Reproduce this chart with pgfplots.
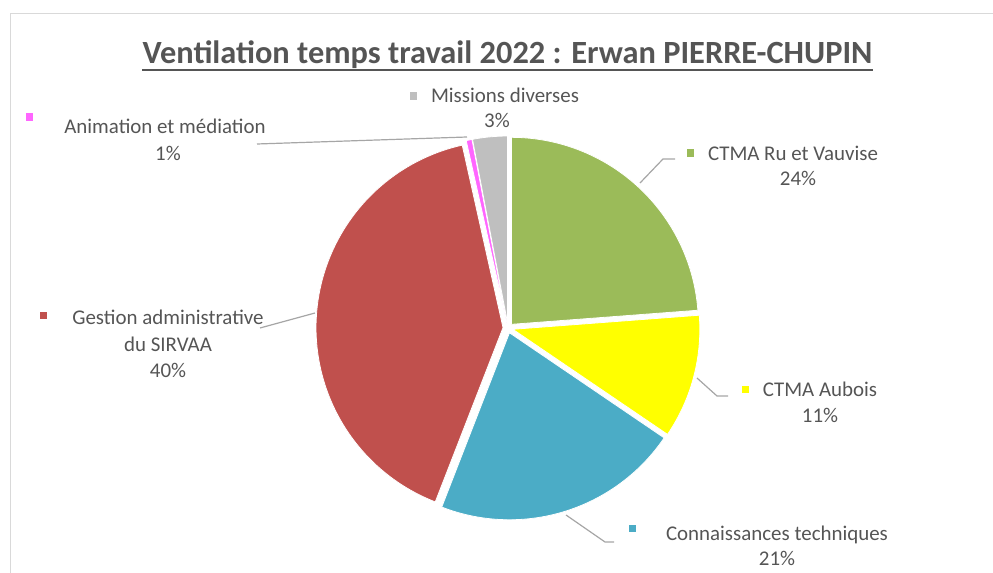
\documentclass[border=0pt]{standalone}
\usepackage{pgfplots}
\pgfplotsset{compat=1.18}
\usepackage{pgfplotstable}
\usepackage{fontspec}
\setmainfont{Carlito}
\definecolor{txt}{HTML}{555555}
\definecolor{lead}{HTML}{A6A6A6}
\definecolor{frame}{HTML}{D9D9D9}
\definecolor{cgreen}{HTML}{9BBB59}
\definecolor{cyellow}{HTML}{FFFF00}
\definecolor{cblue}{HTML}{4BACC6}
\definecolor{cred}{HTML}{C0504D}
\definecolor{cmag}{HTML}{FF66FF}
\definecolor{cgray}{HTML}{BFBFBF}
% shares (percent), clockwise from 12 o'clock
\pgfplotstableread{
name value
CTMA_Ru_et_Vauvise 23.8
CTMA_Aubois 10.7
Connaissances_techniques 21.4
Gestion_administrative 40.6
Animation_et_mediation 0.5
Missions_diverses 3.0
}\piedata
\def\cum{0}
\newcommand\slice[2]{%
  \pgfmathsetmacro\sa{90-3.6*\cum}%
  \pgfmathsetmacro\sb{90-3.6*(\cum+#1)}%
  \pgfmathsetmacro\sm{(\sa+\sb)/2}%
  \pgfmathsetmacro\scx{508+5*cos(\sm)}%
  \pgfmathsetmacro\scy{328-5*sin(\sm)}%
  \edef\tmp{\noexpand\addplot[fill=#2, draw=white, line width=0.8pt, mark=none, domain=\sb:\sa, samples=90, variable=\noexpand\t] ({\scx+187*cos(\noexpand\t)}, {\scy-187*sin(\noexpand\t)}) -- (axis cs:\scx,\scy) -- cycle;}%
  \tmp
  \pgfmathsetmacro\cum{\cum+#1}\xdef\cum{\cum}%
}
\tikzset{lab/.style={text=txt, inner sep=0pt, text height=0.64em, text depth=0pt, font=\fontsize{21}{24}\selectfont}}
\begin{document}
\begin{tikzpicture}
\begin{axis}[x=1bp, y=1bp, xmin=0, xmax=993, ymin=0, ymax=573, y dir=reverse, hide axis, clip=false]
% frame
\addplot[draw=frame, line width=1.5bp, mark=none] coordinates {(10.5,573) (10.5,13.5) (993,13.5)};
% slices
\pgfplotstablegetelem{0}{value}\of\piedata \slice{\pgfplotsretval}{cgreen}
\pgfplotstablegetelem{1}{value}\of\piedata \slice{\pgfplotsretval}{cyellow}
\pgfplotstablegetelem{2}{value}\of\piedata \slice{\pgfplotsretval}{cblue}
\pgfplotstablegetelem{3}{value}\of\piedata \slice{\pgfplotsretval}{cred}
\pgfplotstablegetelem{4}{value}\of\piedata \slice{\pgfplotsretval}{cmag}
\pgfplotstablegetelem{5}{value}\of\piedata \slice{\pgfplotsretval}{cgray}
% leader lines
\addplot[draw=lead, line width=1.2bp, mark=none] coordinates {(467,137) (257,144)};
\addplot[draw=lead, line width=1.2bp, mark=none] coordinates {(640,183) (663,159) (675,159)};
\addplot[draw=lead, line width=1.2bp, mark=none] coordinates {(697,378) (717,396) (728,396)};
\addplot[draw=lead, line width=1.2bp, mark=none] coordinates {(566,515) (605,542) (614,542)};
\addplot[draw=lead, line width=1.2bp, mark=none] coordinates {(315,313) (260,328)};
% legend keys
\addplot[only marks, mark=square*, mark size=3.3bp, color=cgray] coordinates {(413,96)};
\addplot[only marks, mark=square*, mark size=3.3bp, color=cmag] coordinates {(29,117)};
\addplot[only marks, mark=square*, mark size=3.3bp, color=cgreen] coordinates {(690,153)};
\addplot[only marks, mark=square*, mark size=3.3bp, color=cyellow] coordinates {(745,389)};
\addplot[only marks, mark=square*, mark size=3.3bp, color=cblue] coordinates {(632,528)};
\addplot[only marks, mark=square*, mark size=3.3bp, color=cred] coordinates {(43,315)};
% title
\node[text=txt, inner sep=0pt, anchor=base, font=\fontsize{32.5}{36}\bfseries\selectfont] (T) at (axis cs:507.5,64) {Ventilation temps travail 2022 : Erwan PIERRE-CHUPIN};
\draw[txt, line width=1.8bp] ([yshift=-6bp]T.base west) -- ([yshift=-6bp]T.base east);
% labels
\node[lab] at (axis cs:505,99) {Missions diverses};
\node[lab] at (axis cs:497,124) {3\%};
\node[lab] at (axis cs:165,130) {Animation et médiation};
\node[lab] at (axis cs:168,157) {1\%};
\node[lab] at (axis cs:793,157) {CTMA Ru et Vauvise};
\node[lab] at (axis cs:798,182) {24\%};
\node[lab] at (axis cs:820,393) {CTMA Aubois};
\node[lab] at (axis cs:820,419) {11\%};
\node[lab] at (axis cs:777,537) {Connaissances techniques};
\node[lab] at (axis cs:777,562) {21\%};
\node[lab] at (axis cs:168,321) {Gestion administrative};
\node[lab] at (axis cs:168,348) {du SIRVAA};
\node[lab] at (axis cs:168,374) {40\%};
\end{axis}
\pgfresetboundingbox
\path (current axis.south west) rectangle (current axis.north east);
\end{tikzpicture}
\end{document}
